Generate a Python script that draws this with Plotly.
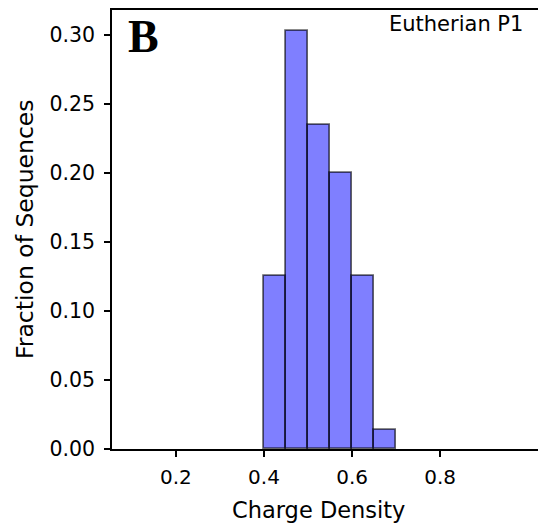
import plotly.graph_objects as go

# Histogram data (bin left edges, width 0.05) and fraction of sequences
bin_left = [0.10, 0.15, 0.20, 0.25, 0.30, 0.35, 0.40, 0.45, 0.50,
            0.55, 0.60, 0.65, 0.70, 0.75, 0.80, 0.85, 0.90, 0.95]
fractions = [0, 0, 0, 0, 0, 0, 0.125, 0.303, 0.235,
             0.200, 0.125, 0.014, 0, 0, 0, 0, 0, 0]
bin_width = 0.05

x_ticks = [0.2, 0.4, 0.6, 0.8]
y_ticks = [0.00, 0.05, 0.10, 0.15, 0.20, 0.25, 0.30]

panel_label = "B"
panel_title = "Eutherian P1"
x_label = "Charge Density"
y_label = "Fraction of Sequences"

W, H = 538, 527
ml, mr, mt, mb = 112, 0, 10, 78

fig = go.Figure()
fig.add_trace(go.Bar(
    x=bin_left,
    y=fractions,
    width=bin_width,
    offset=0,
    marker=dict(color="rgba(0,0,255,0.5)",
                line=dict(color="rgba(0,0,0,0.6)",
                          width=[1.8 if v > 0 else 0 for v in fractions])),
    hoverinfo="x+y",
))

font_main = "DejaVu Sans"
fig.update_layout(
    width=W, height=H,
    margin=dict(l=ml, r=mr, t=mt, b=mb, pad=0),
    plot_bgcolor="white", paper_bgcolor="white",
    showlegend=False,
    bargap=0,
    font=dict(family=font_main, color="black", size=20),
    xaxis=dict(
        range=[0.055, 0.055 + (W - ml - mr) / 440.5],
        tickvals=x_ticks,
        ticktext=[f"{v:.1f}" for v in x_ticks],
        ticks="outside", ticklen=6, tickwidth=1.5, tickcolor="black",
        ticklabelstandoff=3,
        showline=True, linecolor="black", linewidth=1.6, mirror=True,
        showgrid=False, zeroline=False,
        tickfont=dict(family=font_main, size=20, color="black"),
    ),
    yaxis=dict(
        range=[0, 0.318],
        tickvals=y_ticks,
        ticktext=[f"{v:.2f}" for v in y_ticks],
        ticks="outside", ticklen=6, tickwidth=1.5, tickcolor="black",
        ticklabelstandoff=5,
        showline=True, linecolor="black", linewidth=1.6, mirror=False,
        showgrid=False, zeroline=False,
        tickfont=dict(family=font_main, size=20.5, color="black"),
    ),
)

pw = W - ml - mr
ph = H - mt - mb

def px_x(p):
    return (p - ml) / pw

def px_y(p):
    return (H - mb - p) / ph

fig.add_annotation(text=y_label, xref="paper", yref="paper",
                   x=px_x(25), y=px_y(229), xanchor="center", yanchor="middle",
                   textangle=-90, showarrow=False,
                   font=dict(family=font_main, size=23.5, color="black"))
fig.add_annotation(text=x_label, xref="paper", yref="paper",
                   x=px_x(318.5), y=px_y(510), xanchor="center", yanchor="middle",
                   showarrow=False,
                   font=dict(family=font_main, size=22.5, color="black"))
fig.add_annotation(text=f"<b>{panel_label}</b>", xref="paper", yref="paper",
                   x=px_x(126), y=px_y(36), xanchor="left", yanchor="middle",
                   showarrow=False,
                   font=dict(family="Liberation Serif", size=46, color="black"))
fig.add_annotation(text=panel_title, xref="paper", yref="paper",
                   x=px_x(525), y=px_y(24), xanchor="right", yanchor="middle",
                   showarrow=False,
                   font=dict(family=font_main, size=21, color="black"))

fig.write_html("out.html")
